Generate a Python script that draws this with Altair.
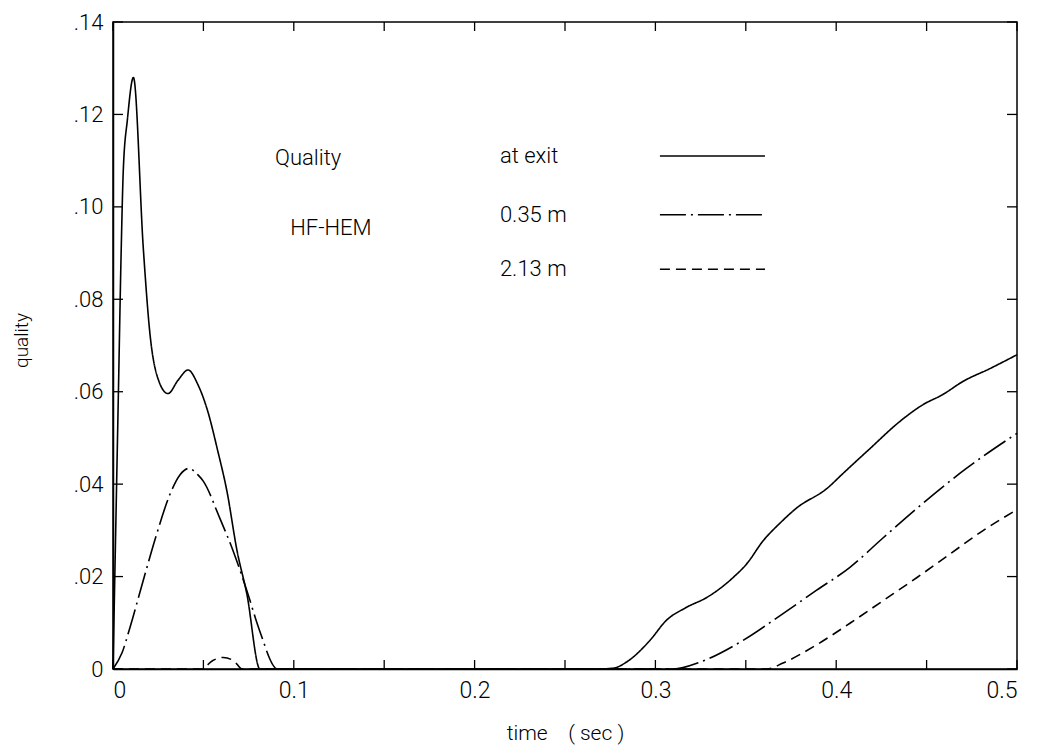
import altair as alt
import pandas as pd

# ---- data ----
t_exit = [0, 0.0015, 0.003, 0.0045, 0.0057, 0.008, 0.0113, 0.0168, 0.0205, 0.0249,
          0.0304, 0.036, 0.0415, 0.047, 0.052, 0.058, 0.063, 0.0686, 0.074, 0.0813,
          0.15, 0.2, 0.268, 0.277, 0.284, 0.297, 0.306, 0.317, 0.3285, 0.343, 0.3506,
          0.3595, 0.369, 0.378, 0.395, 0.404, 0.4187, 0.435, 0.448, 0.459, 0.470,
          0.485, 0.5]
q_exit = [0, 0.03, 0.06, 0.09, 0.108, 0.119, 0.128, 0.0908, 0.0723, 0.0628,
          0.0596, 0.0625, 0.0647, 0.0615, 0.0563, 0.0471, 0.0385, 0.0256, 0.0163, 0,
          0, 0, 0, 0.0002, 0.0015, 0.0062, 0.0105, 0.0133, 0.0155, 0.0198, 0.0228,
          0.0277, 0.0316, 0.0348, 0.0391, 0.0424, 0.0477, 0.0535, 0.0572, 0.0594, 0.0622,
          0.065, 0.068]

t_035 = [0, 0.005, 0.0094, 0.0166, 0.024, 0.0315, 0.037, 0.042, 0.047, 0.05, 0.059,
         0.0664, 0.074, 0.081, 0.091, 0.2, 0.31, 0.3247, 0.3485, 0.3706, 0.389,
         0.4076, 0.426, 0.4447, 0.472, 0.5]
q_035 = [0, 0.0035, 0.009, 0.019, 0.029, 0.0378, 0.042, 0.0434, 0.042, 0.0406, 0.0327,
         0.0256, 0.017, 0.0084, 0, 0, 0, 0.0015, 0.0062, 0.012, 0.017,
         0.022, 0.0284, 0.0348, 0.0434, 0.051]

t_213 = [0, 0.049, 0.055, 0.061, 0.067, 0.0715, 0.2, 0.3617, 0.3706, 0.389, 0.4076,
         0.426, 0.4447, 0.463, 0.481, 0.5]
q_213 = [0, 0, 0.0018, 0.0025, 0.0017, 0, 0, 0, 0.0013, 0.0052, 0.0099,
         0.0148, 0.0198, 0.0249, 0.0299, 0.0345]

series_names = ["at exit", "0.35 m", "2.13 m"]
x_label_values = [0, 0.1, 0.2, 0.3, 0.4, 0.5]
x_tick_values = [0, 0.05, 0.1, 0.15, 0.2, 0.25, 0.3, 0.35, 0.4, 0.45, 0.5]
y_tick_values = [0, 0.02, 0.04, 0.06, 0.08, 0.10, 0.12, 0.14]

ann_text = ["Quality", "HF-HEM"]
ann_x = [0.0896, 0.098]
ann_y = [0.1105, 0.0955]

leg_x1 = 0.3025
leg_x2 = 0.3606
leg_label_x = 0.214
leg_y = [0.111, 0.0983, 0.0865]

# ---- build tables ----
rows = []
for name, ts, qs in zip(series_names, [t_exit, t_035, t_213], [q_exit, q_035, q_213]):
    for i, (t, q) in enumerate(zip(ts, qs)):
        rows.append({"series": name, "t": t, "q": q, "order": i})
df = pd.DataFrame(rows)

leg_df = pd.DataFrame({"series": series_names, "x1": [leg_x1] * 3, "x2": [leg_x2] * 3,
                       "lx": [leg_label_x] * 3, "y": leg_y})
ann_df = pd.DataFrame({"text": ann_text, "x": ann_x, "y": ann_y})
xt_df = pd.DataFrame({"v": x_tick_values})
yt_df = pd.DataFrame({"v": y_tick_values})

W, H = 904, 647
FONT = "Roboto"

xscale = alt.Scale(domain=[0, 0.5], nice=False, zero=False)
yscale = alt.Scale(domain=[0, 0.14], nice=False, zero=False)
dash_scale = alt.Scale(domain=series_names, range=[[1, 0], [26, 5, 2, 5], [10, 6]])

lines = alt.Chart(df).mark_line(color="black", strokeWidth=1.6, interpolate="monotone").encode(
    x=alt.X("t:Q", scale=xscale,
            axis=alt.Axis(values=x_label_values, ticks=False, labelFontSize=23,
                          labelFont=FONT, labelFontWeight=300, labelColor="black",
                          labelPadding=10, grid=False, domainColor="black", domainWidth=1.5,
                          labelExpr="datum.value == 0 ? '0' : format(datum.value, '.1f')",
                          title="time\u00a0\u00a0\u00a0\u00a0( sec )", titleFont=FONT,
                          titleFontSize=21, titleFontWeight=300, titleColor="black",
                          titleY=64, titleBaseline="middle")),
    y=alt.Y("q:Q", scale=yscale,
            axis=alt.Axis(values=y_tick_values, ticks=False, labelFontSize=22,
                          labelFont=FONT, labelFontWeight=300, labelColor="black",
                          labelPadding=10, grid=False, domainColor="black", domainWidth=1.5,
                          labelExpr="datum.value == 0 ? '0' : replace(format(datum.value, '.2f'), '0.', '.')",
                          title="quality", titleFont=FONT, titleFontSize=19,
                          titleFontWeight=300, titleColor="black",
                          titleX=-92, titleY=318, titleBaseline="middle", titleAngle=-90)),
    strokeDash=alt.StrokeDash("series:N", scale=dash_scale, legend=None),
    detail="series:N",
    order="order:Q",
)

legend_rules = alt.Chart(leg_df).mark_rule(color="black", strokeWidth=1.6).encode(
    x=alt.X("x1:Q", scale=xscale), x2="x2:Q",
    y=alt.Y("y:Q", scale=yscale),
    strokeDash=alt.StrokeDash("series:N", scale=dash_scale, legend=None),
)
legend_text = alt.Chart(leg_df).mark_text(align="left", baseline="middle", font=FONT,
                                          fontSize=22, fontWeight=300, color="black").encode(
    x=alt.X("lx:Q", scale=xscale), y=alt.Y("y:Q", scale=yscale), text="series:N")

ann = alt.Chart(ann_df).mark_text(align="left", baseline="middle", font=FONT,
                                  fontSize=22, fontWeight=300, color="black").encode(
    x=alt.X("x:Q", scale=xscale), y=alt.Y("y:Q", scale=yscale), text="text:N")

tick_bottom = alt.Chart(xt_df).mark_rule(color="black", strokeWidth=1.3).encode(
    x=alt.X("v:Q", scale=xscale), y=alt.value(H), y2=alt.value(H - 9))
tick_top = alt.Chart(xt_df).mark_rule(color="black", strokeWidth=1.3).encode(
    x=alt.X("v:Q", scale=xscale), y=alt.value(0), y2=alt.value(9))
tick_left = alt.Chart(yt_df).mark_rule(color="black", strokeWidth=1.3).encode(
    y=alt.Y("v:Q", scale=yscale), x=alt.value(0), x2=alt.value(10))
tick_right = alt.Chart(yt_df).mark_rule(color="black", strokeWidth=1.3).encode(
    y=alt.Y("v:Q", scale=yscale), x=alt.value(W), x2=alt.value(W - 10))

chart = alt.layer(lines, legend_rules, legend_text, ann,
                  tick_bottom, tick_top, tick_left, tick_right).properties(
    width=W, height=H,
    padding={"left": 105, "top": 14, "right": 13, "bottom": 80},
    autosize=alt.AutoSizeParams(type="none"),
    background="white",
).configure_view(stroke="black", strokeWidth=1.5)

chart.save("out.html", embed_options={"renderer": "svg", "actions": False})
